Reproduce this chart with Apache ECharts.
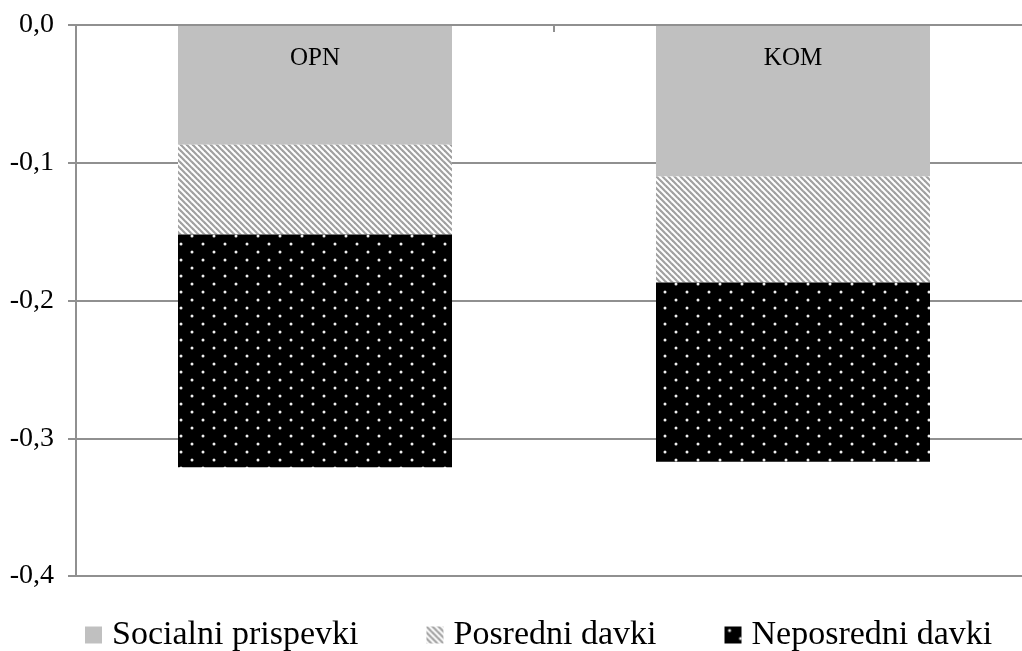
<!DOCTYPE html>
<html>
<head>
<meta charset="utf-8">
<script src="https://cdn.jsdelivr.net/npm/echarts@6/dist/echarts.min.js"></script>
<style>
  html, body { margin: 0; padding: 0; background: #fff; }
  #chart { width: 1022px; height: 651px; }
</style>
</head>
<body>
<div id="chart"></div>
<script>
// Categories and stacked components (negative contributions)
const categories = ['OPN', 'KOM'];
const socialniPrispevki = [-0.087, -0.110];
const posredniDavki = [-0.065, -0.077];
const neposredniDavki = [-0.169, -0.130];
const yTicks = { min: -0.4, max: 0, interval: 0.1 };

const FONT = '"Liberation Serif", "Times New Roman", serif';
const GRID_COLOR = '#909090';

// Diagonal hatch tile (top-left to bottom-right)
function hatchPattern() {
  const p = 6;
  const c = document.createElement('canvas');
  c.width = p; c.height = p;
  const g = c.getContext('2d');
  g.fillStyle = '#ffffff';
  g.fillRect(0, 0, p, p);
  g.strokeStyle = '#a0a0a0';
  g.lineWidth = 2.2;
  const segs = [[-p, -p, 2 * p, 2 * p], [-p, 0, p, 2 * p], [0, -p, 2 * p, p]];
  segs.forEach(s => {
    g.beginPath();
    g.moveTo(s[0], s[1]);
    g.lineTo(s[2], s[3]);
    g.stroke();
  });
  return c;
}

// Black tile with staggered white dots
function dotPattern() {
  const w = 22, h = 16;
  const c = document.createElement('canvas');
  c.width = w; c.height = h;
  const g = c.getContext('2d');
  g.fillStyle = '#000000';
  g.fillRect(0, 0, w, h);
  g.fillStyle = '#f0f0f0';
  [[5, 4], [16, 12]].forEach(d => {
    g.beginPath();
    g.arc(d[0], d[1], 1.5, 0, Math.PI * 2);
    g.fill();
  });
  return c;
}

const hatch = { image: hatchPattern(), repeat: 'repeat' };
const dots = { image: dotPattern(), repeat: 'repeat' };

const chart = echarts.init(document.getElementById('chart'), null, { renderer: 'canvas' });

const barWidth = 274;

chart.setOption({
  animation: false,
  backgroundColor: '#ffffff',
  grid: { left: 76, top: 25, width: 956, height: 551, containLabel: false, outerBoundsMode: 'none' },
  legend: {
    left: 80,
    top: 613,
    itemWidth: 17,
    itemHeight: 17,
    itemGap: 68,
    icon: 'rect',
    textStyle: { fontFamily: FONT, fontSize: 34, color: '#000', padding: [0, 0, 0, 5] },
    data: ['Socialni prispevki', 'Posredni davki', 'Neposredni davki']
  },
  xAxis: {
    type: 'category',
    position: 'top',
    data: categories,
    axisLine: { show: true, lineStyle: { color: GRID_COLOR, width: 2 } },
    axisTick: { show: true, inside: true, length: 7, lineStyle: { color: GRID_COLOR, width: 2 } },
    axisLabel: { inside: true, margin: 21, fontFamily: FONT, fontSize: 25, color: '#000' },
    splitLine: { show: false },
    z: 10
  },
  yAxis: {
    type: 'value',
    min: yTicks.min,
    max: yTicks.max,
    interval: yTicks.interval,
    axisLine: { show: true, lineStyle: { color: GRID_COLOR, width: 2 } },
    axisTick: { show: true, length: 8, lineStyle: { color: GRID_COLOR, width: 2 } },
    axisLabel: {
      margin: 22,
      fontFamily: FONT,
      fontSize: 28,
      color: '#000',
      formatter: v => (Math.abs(v) < 1e-9 ? 0 : v).toFixed(1).replace('.', ',')
    },
    splitLine: { show: true, lineStyle: { color: GRID_COLOR, width: 2 } }
  },
  series: [
    {
      name: 'Socialni prispevki',
      type: 'bar',
      stack: 'total',
      barWidth: barWidth,
      itemStyle: { color: '#c0c0c0' },
      data: socialniPrispevki
    },
    {
      name: 'Posredni davki',
      type: 'bar',
      stack: 'total',
      barWidth: barWidth,
      itemStyle: { color: hatch },
      data: posredniDavki
    },
    {
      name: 'Neposredni davki',
      type: 'bar',
      stack: 'total',
      barWidth: barWidth,
      itemStyle: { color: dots },
      data: neposredniDavki
    }
  ]
});
</script>
</body>
</html>
